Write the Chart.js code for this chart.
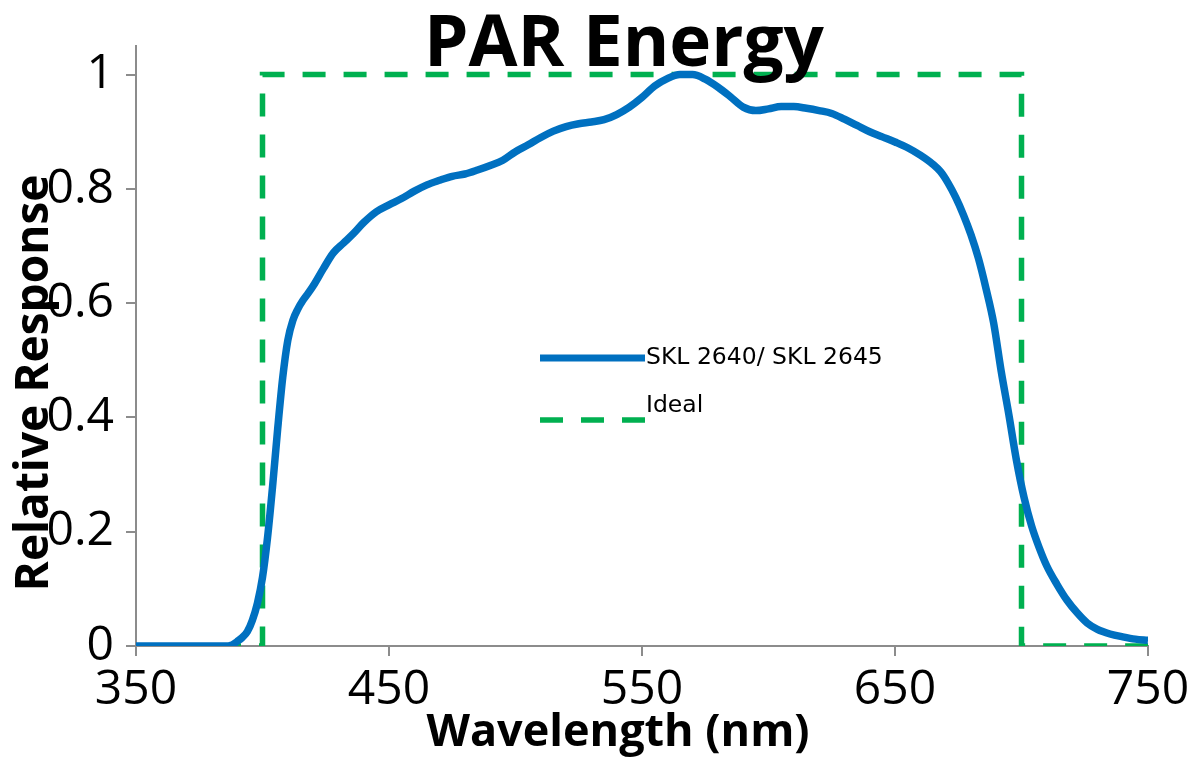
<!DOCTYPE html>
<html>
<head>
<meta charset="utf-8">
<script src="https://cdn.jsdelivr.net/npm/chart.js@4.4.1/dist/chart.umd.min.js"></script>
<style>
  html, body { margin: 0; padding: 0; background: #fff; }
  #wrap { width: 1198px; height: 760px; position: relative; }
</style>
</head>
<body>
<div id="wrap"><canvas id="parChart" width="1198" height="760"></canvas></div>
<script>
const wavelengths = [350, 360, 370, 380, 385, 388, 390, 392, 394, 396, 398, 400, 402, 404, 406, 408, 410, 412, 414, 416, 418, 420, 424, 428, 432, 436, 440, 445, 450, 455, 460, 465, 470, 475, 480, 485, 490, 495, 500, 505, 510, 515, 520, 525, 530, 535, 540, 545, 550, 555, 560, 565, 570, 575, 580, 585, 590, 595, 600, 605, 610, 615, 620, 625, 630, 635, 640, 645, 650, 655, 660, 665, 668, 671, 674, 677, 680, 683, 686, 689, 692, 695, 698, 701, 704, 707, 710, 714, 718, 722, 726, 730, 735, 740, 745, 750];
const response = [0, 0, 0, 0, 0, 0.002, 0.008, 0.015, 0.025, 0.045, 0.075, 0.12, 0.19, 0.28, 0.38, 0.47, 0.535, 0.57, 0.59, 0.605, 0.617, 0.63, 0.66, 0.688, 0.705, 0.722, 0.741, 0.76, 0.772, 0.783, 0.796, 0.807, 0.815, 0.822, 0.826, 0.833, 0.841, 0.85, 0.865, 0.877, 0.89, 0.901, 0.909, 0.914, 0.917, 0.921, 0.93, 0.943, 0.96, 0.98, 0.993, 1.0, 1.0, 0.992, 0.978, 0.961, 0.943, 0.937, 0.94, 0.944, 0.944, 0.941, 0.937, 0.932, 0.922, 0.911, 0.9, 0.891, 0.882, 0.872, 0.859, 0.843, 0.83, 0.81, 0.785, 0.755, 0.72, 0.678, 0.625, 0.565, 0.48, 0.405, 0.325, 0.26, 0.21, 0.172, 0.14, 0.108, 0.08, 0.058, 0.04, 0.029, 0.021, 0.016, 0.012, 0.01];

// ideal PAR box
const idealWavelengths = [350, 400, 400, 700, 700, 750];
const idealResponse = [0, 0, 1, 1, 0, 0];

const xTicks = [350, 450, 550, 650, 750];
const yTicks = [0, 0.2, 0.4, 0.6, 0.8, 1];

const seriesName = "SKL 2640/ SKL 2645";
const idealName = "Ideal";

const blue = "#0070C0";
const green = "#00B050";
const axisGrey = "#8c8c8c";

function toPoints(xs, ys) {
  return xs.map((x, i) => ({ x: x, y: ys[i] }));
}

// titles + legend drawn straight on the canvas, they overlap the plot like the original
const decorations = {
  id: "decorations",
  afterDraw(chart) {
    const ctx = chart.ctx;
    ctx.save();
    ctx.fillStyle = "#000";

    ctx.font = "bold 71px 'Open Sans'";
    ctx.textAlign = "center";
    ctx.textBaseline = "alphabetic";
    ctx.fillText("PAR Energy", 624, 66);

    ctx.font = "bold 45px 'Open Sans'";
    ctx.fillText("Wavelength (nm)", 618, 746);

    ctx.save();
    ctx.translate(48, 383);
    ctx.rotate(-Math.PI / 2);
    ctx.font = "bold 46px 'Open Sans'";
    ctx.fillText("Relative Response", 0, 0);
    ctx.restore();

    // legend
    ctx.lineCap = "butt";
    ctx.strokeStyle = blue;
    ctx.lineWidth = 7;
    ctx.beginPath();
    ctx.moveTo(540, 358);
    ctx.lineTo(645, 358);
    ctx.stroke();

    ctx.strokeStyle = green;
    ctx.lineWidth = 5.5;
    ctx.setLineDash([23, 18]);
    ctx.beginPath();
    ctx.moveTo(540, 420);
    ctx.lineTo(645, 420);
    ctx.stroke();
    ctx.setLineDash([]);

    ctx.font = "23.5px 'DejaVu Sans'";
    ctx.textAlign = "left";
    ctx.fillText(seriesName, 646, 364);
    ctx.fillText(idealName, 646, 412);
    ctx.restore();
  }
};

const ctx = document.getElementById("parChart").getContext("2d");
new Chart(ctx, {
  type: "line",
  data: {
    datasets: [{
      label: seriesName,
      data: toPoints(wavelengths, response),
      borderColor: blue,
      borderWidth: 7.5,
      pointRadius: 0,
      cubicInterpolationMode: "monotone",
      fill: false
    }, {
      label: idealName,
      data: toPoints(idealWavelengths, idealResponse),
      borderColor: green,
      borderWidth: 5.5,
      borderDash: [23, 18],
      pointRadius: 0,
      tension: 0,
      fill: false
    }]
  },
  options: {
    responsive: false,
    animation: false,
    layout: { padding: { top: 46, right: 50, left: 0, bottom: 0 } },
    plugins: {
      legend: { display: false },
      title: { display: false },
      tooltip: { enabled: false }
    },
    scales: {
      x: {
        type: "linear",
        min: 350,
        max: 750,
        afterBuildTicks: s => { s.ticks = xTicks.map(v => ({ value: v })); },
        afterFit: s => { s.height = 114; },
        ticks: {
          color: "#000",
          font: { family: "'Open Sans'", size: 48 },
          padding: 6,
          maxRotation: 0
        },
        grid: { drawOnChartArea: false, drawTicks: true, tickLength: 10, color: axisGrey, lineWidth: 2 },
        border: { color: axisGrey, width: 2 }
      },
      y: {
        min: 0,
        max: 1.05,
        afterBuildTicks: s => { s.ticks = yTicks.map(v => ({ value: v })); },
        afterFit: s => { s.width = 136; },
        ticks: {
          color: "#000",
          font: { family: "'Open Sans'", size: 48 },
          padding: 12,
          callback: v => String(Number(v.toFixed(2)))
        },
        grid: { drawOnChartArea: false, drawTicks: true, tickLength: 10, color: axisGrey, lineWidth: 2 },
        border: { color: axisGrey, width: 2 }
      }
    }
  },
  plugins: [decorations]
});
</script>
</body>
</html>
